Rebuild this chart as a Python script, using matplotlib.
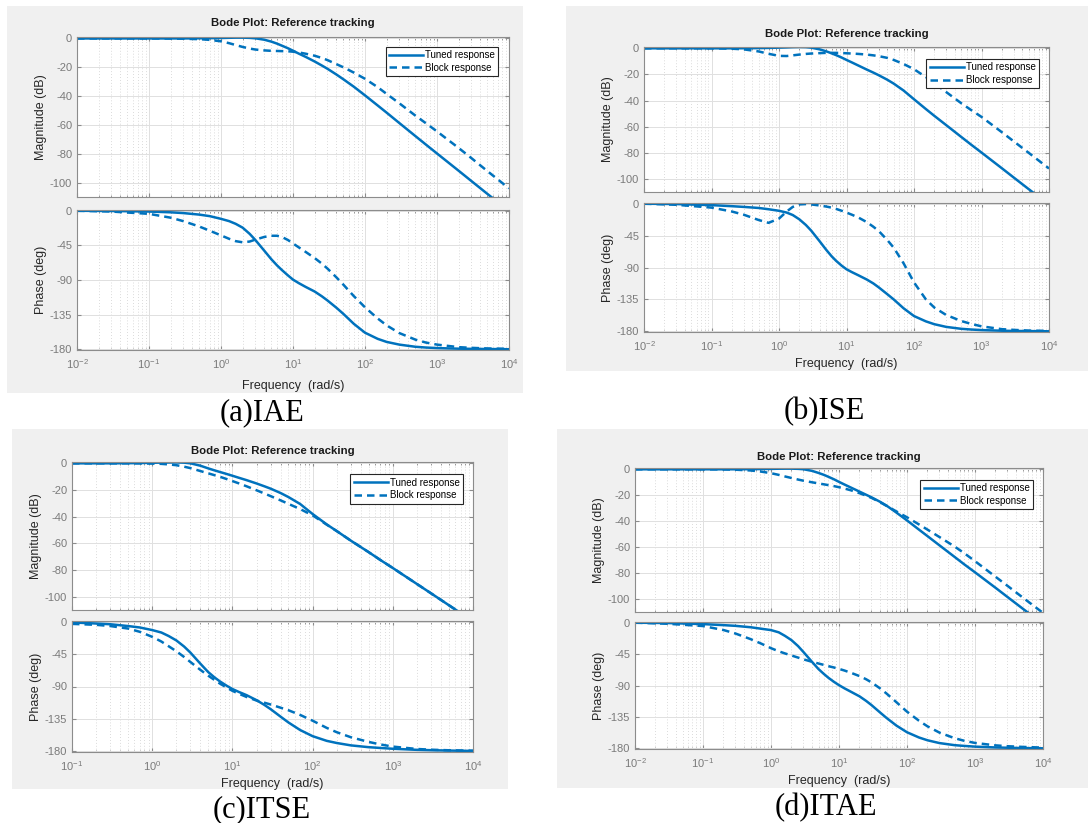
import numpy as np
import matplotlib
matplotlib.use("Agg")
import matplotlib.pyplot as plt
from matplotlib.patches import Rectangle
from matplotlib.ticker import LogLocator, NullFormatter, FixedLocator

plt.rcParams['font.family'] = ['Liberation Sans', 'DejaVu Sans']
plt.rcParams['mathtext.fontset'] = 'custom'
plt.rcParams['mathtext.rm'] = 'Liberation Sans'
plt.rcParams['mathtext.it'] = 'Liberation Sans'
plt.rcParams['axes.unicode_minus'] = False

# frequency grid (rad/s) the values were read at
w = [0.01, 0.03, 0.1, 0.2, 0.3, 0.5, 0.7, 1, 1.3, 1.6, 2, 2.5, 3, 4, 5, 6, 7, 8.5,
     10, 12, 15, 20, 25, 30, 40, 50, 70, 100, 150, 200, 300, 500, 700,
     1000, 2000, 3000, 5000, 10000]
w_c = w[2:]

# (a) IAE
a_tuned_mag = [0, 0, 0, 0, 0, 0.1, 0.2, 0.3, 0.45, 0.55, 0.55, 0.4, 0.1, -0.9, -2.2, -3.6, -5, -6.8,
               -8.5, -10.5, -12.8, -16, -18.7, -21, -25, -28.3, -33.5, -39.5, -46.5, -51.5, -58.7, -67.7, -73.6,
               -79.8, -91.8, -98.9, -107.8, -119.8]
a_block_mag = [0, 0, 0, -0.1, -0.2, -0.5, -1, -2, -3.3, -4.6, -5.9, -7, -7.7, -8.3, -8.6, -8.7, -8.8, -8.9,
               -9.2, -9.7, -10.6, -12, -13.5, -15, -17.8, -20, -23.7, -28, -33.8, -38.5, -45, -53.5, -58.8,
               -64.5, -76, -83, -92, -104]
a_tuned_ph = [0, -0.3, -1, -2, -3, -5, -7, -10.5, -13.5, -17, -22, -30, -38, -52, -63, -71, -77, -84,
              -89.5, -94, -99, -105, -111, -116.5, -126, -134, -147, -158.5, -166.5, -170.5, -174, -176.8, -177.8,
              -178.5, -179.3, -179.5, -179.7, -180]
a_block_ph = [0, -1, -4, -9, -13.5, -20.5, -26, -32, -36.5, -39.5, -41, -40, -37.5, -34, -32.5, -32.5, -34, -38,
              -42.5, -47.5, -53.5, -61.5, -68.5, -75, -86.5, -96, -111, -125.5, -140, -149, -159, -167.5, -171.3,
              -174, -177.3, -178.2, -179, -179.5]

# (b) ISE
b_tuned_mag = [0, 0, 0, 0, 0.05, 0.15, 0.3, 0.5, 0.7, 0.9, 1, 0.9, 0.5, -0.8, -2.3, -3.8, -5.2, -7.1,
               -8.9, -10.8, -13.2, -16.3, -18.6, -20.6, -24, -27, -32.3, -39, -46.5, -51.7, -58.8, -67.8, -73.7,
               -79.8, -91.8, -98.9, -107.8, -119.8]
b_block_mag = [0, 0, 0, -0.3, -0.8, -2.4, -4.2, -5.8, -5.9, -5.4, -4.8, -4.3, -4, -3.7, -3.5, -3.5, -3.5, -3.6,
               -3.8, -4, -4.3, -4.8, -5.4, -6, -7.3, -8.9, -12, -16, -22, -26.8, -33.5, -42, -47.2,
               -52.5, -64.2, -71.2, -80, -92]
b_tuned_ph = [0, -0.5, -2, -3.5, -4.5, -6, -7.8, -10, -12.5, -16, -22, -30, -38, -53, -65, -74, -80.5, -87.5,
              -92.5, -96.5, -101, -107, -112.5, -118, -127.5, -135, -147.5, -158.5, -166, -170, -173.8, -176.5, -177.5,
              -178.3, -179.2, -179.5, -179.7, -180]
b_block_ph = [0, -1.5, -5.5, -11, -15.5, -23, -27, -21, -11, -4.5, -1, -0.5, -1, -2.5, -4, -5.5, -7.3, -10,
              -12.5, -15.5, -19.5, -26, -32.5, -38.5, -51, -62, -84, -111, -135, -146.5, -157, -165.5, -169.5,
              -173, -177, -178, -179, -179.5]

# (c) ITSE
c_tuned_mag = [0, 0, 0, 0.1, 0.2, 0.4, 0.55, 0.65, 0.7, 0.5, 0, -1.8, -3.8, -5.3, -6.5, -8,
               -9.3, -10.8, -12.6, -15.1, -17.2, -19, -22.3, -25.3, -30.5, -38, -45.8, -50.8, -58, -66.6, -72.5,
               -78.5, -90.5, -97.5, -106.4, -118.5]
c_block_mag = [0, 0, 0, 0, -0.05, -0.2, -0.4, -0.8, -1.4, -2.5, -3.6, -5.8, -7.5, -8.9, -10.1, -11.8,
               -13.3, -15, -17.2, -20.2, -22.6, -24.6, -27.8, -30.4, -34.3, -39, -46, -50.8, -58, -66.6, -72.5,
               -78.5, -90.5, -97.5, -106.4, -118.5]
c_tuned_ph = [-1, -2.5, -3.5, -6, -8, -11.6, -15, -19.8, -26, -34.5, -43, -58.5, -70, -77.5, -83, -89,
              -93.5, -97.5, -102, -109, -115.5, -121.5, -132, -140, -150.5, -159, -165.5, -168.5, -171.8, -174.3,
              -175.4, -176.5, -178, -178.5, -179, -179.5]
c_block_ph = [-3, -4.3, -6, -9.5, -14, -21, -27.5, -34, -41, -49, -56, -67, -75, -81, -86, -91.5,
              -96, -100, -104.5, -109.5, -112.5, -115, -119.5, -123, -129.5, -137.5, -147.5, -153.5, -160.5, -167,
              -170.5, -173.5, -176.8, -177.8, -178.6, -179.2]

# (d) ITAE
d_tuned_mag = [0, 0, 0, 0, 0, 0.1, 0.2, 0.3, 0.45, 0.5, 0.5, 0.35, 0.05, -1.2, -2.8, -4.3, -5.8, -7.8,
               -9.7, -11.7, -14.1, -17.2, -19.6, -21.6, -25, -28, -33.4, -39.4, -46.5, -51.5, -58.6, -67.5, -73.4,
               -79.4, -91.3, -98.4, -107.3, -119.3]
d_block_mag = [0, 0, 0, -0.1, -0.3, -0.9, -1.7, -3, -4.3, -5.5, -6.7, -7.9, -8.8, -10, -10.9, -11.6, -12.2, -13,
               -13.8, -14.8, -16.2, -18.4, -20.3, -22, -25.3, -28.2, -32.5, -37, -42.5, -46.5, -52.2, -59.5, -64.8,
               -70.8, -82.8, -89.8, -98.7, -110.7]
d_tuned_ph = [0, -0.5, -2, -3.5, -4.5, -6.5, -8.5, -10.6, -13.8, -18.8, -25, -33.5, -42, -56, -66.5, -73.5, -79, -85,
              -89.5, -94, -99, -105.5, -112, -118, -128.5, -136.5, -147.5, -157, -164.5, -168.5, -172.5, -175.5, -176.6,
              -177.6, -178.8, -179.2, -179.6, -180]
d_block_ph = [0, -1.5, -4.8, -10.5, -15.5, -23.5, -29.5, -36.5, -41, -44, -47, -50, -52.5, -56, -58.5, -60.5, -62.3, -64.3,
              -66.2, -68.5, -71.8, -76.5, -81, -85.5, -94, -101.5, -114, -127.5, -140.5, -148.5, -157.5, -165.5, -169.3,
              -172.3, -175.8, -177, -178, -179]

captions = ['(a)IAE', '(b)ISE', '(c)ITSE', '(d)ITAE']

BLUE = '#0072BD'
FIG_W, FIG_H = 1088, 823

fig = plt.figure(figsize=(FIG_W / 100, FIG_H / 100), dpi=100)
fig.patch.set_facecolor('white')


def px_rect(x0, y0, x1, y1):
    # pixel box (top-left origin) -> figure fraction
    return [x0 / FIG_W, 1 - y1 / FIG_H, (x1 - x0) / FIG_W, (y1 - y0) / FIG_H]


def style_axes(ax, xlim):
    ax.set_xscale('log')
    ax.set_xlim(*xlim)
    ax.xaxis.set_major_locator(LogLocator(base=10, numticks=20))
    ax.xaxis.set_minor_locator(LogLocator(base=10, subs=np.arange(2, 10), numticks=100))
    ax.xaxis.set_minor_formatter(NullFormatter())
    ax.grid(True, which='major', color='#e0e0e0', lw=0.7)
    ax.grid(True, which='minor', axis='x', color='#cfcfcf', lw=0.6, ls=(0, (1, 2.5)))
    ax.tick_params(which='both', direction='in', top=True, right=True,
                   colors='#8c8c8c', labelcolor='#7a7a7a', labelsize=8)
    ax.tick_params(which='major', length=3)
    ax.tick_params(which='minor', length=1.8)
    for s in ax.spines.values():
        s.set_color('#8c8c8c')
        s.set_linewidth(0.8)
    ax.set_axisbelow(True)


panels = [
    dict(bg=(7, 6, 523, 393), mag=(77, 37, 509, 197), ph=(77, 210, 509, 350), w=w,
         tm=a_tuned_mag, bm=a_block_mag, tp=a_tuned_ph, bp=a_block_ph, xlim=(1e-2, 1e4),
         cap=(262, 413), leg=(0.98, 0.95), xpad=7, tpad=8),
    dict(bg=(566, 6, 1088, 371), mag=(644, 47, 1049, 192), ph=(644, 203, 1049, 332), w=w,
         tm=b_tuned_mag, bm=b_block_mag, tp=b_tuned_ph, bp=b_block_ph, xlim=(1e-2, 1e4),
         cap=(824, 412), leg=(0.98, 0.93), xpad=4, tpad=7),
    dict(bg=(12, 429, 508, 789), mag=(72, 462, 473, 610), ph=(72, 621, 473, 752), w=w_c,
         tm=c_tuned_mag, bm=c_block_mag, tp=c_tuned_ph, bp=c_block_ph, xlim=(1e-1, 1e4),
         cap=(262, 810), leg=(0.98, 0.93), xpad=4, tpad=6),
    dict(bg=(557, 429, 1088, 788), mag=(635, 468, 1043, 612), ph=(635, 622, 1043, 749), w=w,
         tm=d_tuned_mag, bm=d_block_mag, tp=d_tuned_ph, bp=d_block_ph, xlim=(1e-2, 1e4),
         cap=(826, 808), leg=(0.98, 0.93), xpad=4, tpad=6),
]

for i, p in enumerate(panels):
    x0, y0, x1, y1 = p['bg']
    fig.patches.append(Rectangle((x0 / FIG_W, 1 - y1 / FIG_H), (x1 - x0) / FIG_W, (y1 - y0) / FIG_H,
                                 transform=fig.transFigure, facecolor='#f0f0f0', edgecolor='none',
                                 zorder=-10))

    # magnitude
    ax1 = fig.add_axes(px_rect(*p['mag']))
    ax1.plot(p['w'], p['tm'], color=BLUE, lw=1.8, label='Tuned response')
    ax1.plot(p['w'], p['bm'], color=BLUE, lw=1.8, ls=(0, (3, 2)), label='Block response')
    style_axes(ax1, p['xlim'])
    ax1.set_ylim(-110, 1)
    ax1.yaxis.set_major_locator(FixedLocator([0, -20, -40, -60, -80, -100]))
    ax1.set_xticklabels([])
    ax1.set_ylabel('Magnitude (dB)', fontsize=9, color='#262626', labelpad=2)
    ax1.set_title('Bode Plot: Reference tracking', fontsize=8.2, fontweight='bold', color='#1a1a1a',
                  pad=p['tpad'])
    leg = ax1.legend(loc='upper right', bbox_to_anchor=p['leg'], fontsize=7, frameon=True, fancybox=False,
                     handlelength=3.5, handletextpad=0.2, borderpad=0.35, labelspacing=0.25,
                     borderaxespad=0.2, framealpha=1)
    leg.get_frame().set_edgecolor('#262626')
    leg.get_frame().set_linewidth(0.8)

    # phase
    ax2 = fig.add_axes(px_rect(*p['ph']))
    ax2.plot(p['w'], p['tp'], color=BLUE, lw=1.8)
    ax2.plot(p['w'], p['bp'], color=BLUE, lw=1.8, ls=(0, (3, 2)))
    style_axes(ax2, p['xlim'])
    ax2.set_ylim(-181, 1)
    ax2.yaxis.set_major_locator(FixedLocator([0, -45, -90, -135, -180]))
    ax2.set_ylabel('Phase (deg)', fontsize=9, color='#262626', labelpad=2)
    ax2.set_xlabel('Frequency  (rad/s)', fontsize=9, color='#262626', labelpad=p['xpad'])
    ax2.tick_params(axis='x', pad=5)

    cx, cy = p['cap']
    fig.text(cx / FIG_W, 1 - cy / FIG_H, captions[i], fontsize=22, family='Liberation Serif',
             ha='center', va='center', color='black')

fig.savefig('out.png', dpi=100, facecolor='white')
